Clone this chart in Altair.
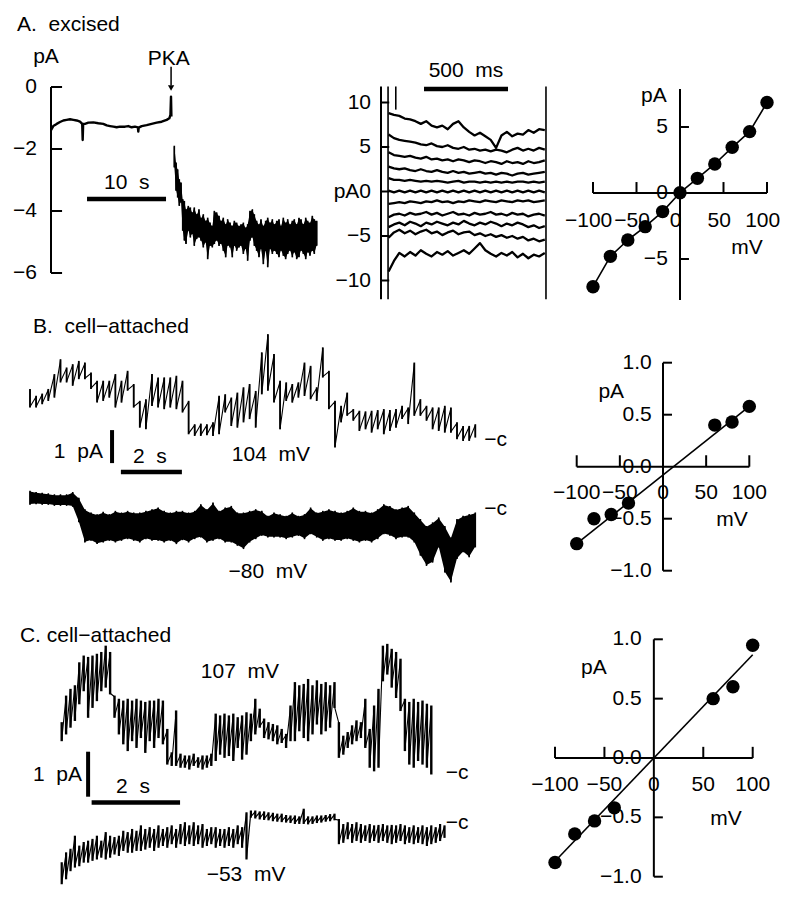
import altair as alt
import pandas as pd

# ======================= DATA =======================
# ---- Panel A, left: excised patch current (pA) vs time (s) ----
a_t_before = [0.0, 0.29, 0.72, 1.14, 1.56, 1.98, 2.41, 2.83, 3.25, 3.67,
              3.95, 4.01, 4.07, 4.30, 4.73, 5.36, 5.99, 6.62, 7.05, 7.47,
              7.89, 8.31, 8.73, 9.37, 9.79, 10.21, 10.63, 11.0, 11.05, 11.1,
              11.48, 12.11, 12.74, 13.38, 14.01, 14.64, 14.98, 15.12, 15.19, 15.24]
a_i_before = [-1.39, -1.26, -1.19, -1.13, -1.08, -1.06, -1.04, -1.06, -1.08, -1.12,
              -1.19, -1.71, -1.19, -1.19, -1.15, -1.14, -1.17, -1.19, -1.24, -1.26,
              -1.28, -1.30, -1.28, -1.28, -1.26, -1.30, -1.28, -1.30, -1.44, -1.31,
              -1.26, -1.23, -1.19, -1.15, -1.12, -1.06, -1.01, -0.90, -0.31, -0.95]
a_t_after = [15.61, 15.83, 16.03, 16.24, 16.46, 16.67, 16.88, 17.09, 17.38, 17.64,
             17.89, 18.14, 18.44, 18.73, 18.99, 19.28, 19.58, 19.83, 20.13, 20.42,
             20.68, 20.97, 21.27, 21.52, 21.81, 22.11, 22.36, 22.66, 22.95, 23.21,
             23.50, 23.80, 24.05, 24.35, 24.64, 24.89, 25.19, 25.49, 25.74, 26.03,
             26.33, 26.58, 26.88, 27.17, 27.43, 27.72, 28.02, 28.27, 28.57, 28.86,
             29.11, 29.41, 29.70, 29.96, 30.25, 30.55, 30.80, 31.10, 31.39, 31.65,
             31.94, 32.24, 32.49, 32.78, 33.08, 33.33, 33.63]
a_hi_after = [-1.92, -2.46, -2.68, -3.00, -3.11, -3.64, -3.70, -3.97, -3.86, -3.91,
              -4.07, -3.91, -4.13, -3.97, -4.24, -4.13, -4.34, -4.24, -4.40, -4.50,
              -4.02, -4.07, -4.18, -4.34, -4.24, -4.45, -4.29, -4.40, -4.50, -4.34,
              -4.40, -4.50, -4.45, -4.40, -4.56, -4.45, -4.02, -3.97, -4.13, -4.34,
              -4.45, -4.29, -4.50, -4.34, -4.24, -4.40, -4.29, -4.45, -4.34, -4.29,
              -4.50, -4.24, -4.40, -4.29, -4.45, -4.34, -4.29, -4.45, -4.24, -4.29,
              -4.45, -4.24, -4.34, -4.40, -4.18, -4.29, -4.34]
a_lo_after = [-2.57, -3.32, -3.54, -3.81, -3.70, -4.61, -4.93, -5.04, -4.61, -4.83,
              -4.72, -5.10, -4.88, -4.83, -4.93, -5.15, -4.99, -5.53, -5.10, -5.15,
              -5.04, -4.93, -5.10, -5.04, -5.26, -5.47, -5.10, -5.15, -5.47, -5.10,
              -5.26, -5.15, -5.10, -5.36, -5.20, -5.58, -4.93, -4.83, -5.10, -5.26,
              -5.47, -5.20, -5.69, -5.26, -5.79, -5.20, -5.36, -5.26, -5.36, -5.47,
              -5.26, -5.42, -5.53, -5.36, -5.26, -5.47, -5.31, -5.53, -5.47, -5.26,
              -5.36, -5.53, -5.31, -5.42, -5.26, -5.36, -5.10]
a_ticks = [0, -2, -4, -6]
a_tick_labels = ["0", "−2", "−4", "−6"]

# ---- Panel A, middle: current families (pA) vs time (ms) ----
fam_t = [45, 77, 109, 141, 173, 205, 237, 269, 301, 333,
         365, 397, 429, 461, 493, 525, 557, 589, 621, 653,
         685, 717, 749, 781, 813, 845, 877, 909, 941, 975]
fam_mv = [100, 80, 60, 40, 20, 0, -20, -40, -60, -80, -100]
fam_i = [
    [8.8, 8.6, 8.5, 8.2, 8.1, 7.9, 7.6, 7.9, 7.4, 7.2, 7.4, 7.0, 7.6, 7.9, 7.2,
     6.7, 6.3, 6.6, 6.2, 5.8, 4.9, 6.3, 6.7, 6.2, 6.5, 6.4, 6.9, 6.6, 7.0, 6.9],
    [6.4, 6.0, 5.8, 5.7, 5.6, 5.5, 5.3, 5.2, 5.4, 5.1, 5.0, 5.2, 4.9, 4.8, 5.0,
     4.7, 4.8, 4.6, 4.7, 4.5, 4.7, 4.6, 4.4, 4.7, 4.9, 4.6, 4.8, 4.6, 4.9, 4.7],
    [4.4, 4.1, 4.0, 3.9, 4.0, 3.8, 3.7, 3.9, 3.6, 3.7, 3.5, 3.6, 3.4, 3.6, 3.5,
     3.3, 3.5, 3.4, 3.2, 3.4, 3.3, 3.1, 3.4, 3.2, 3.3, 3.1, 3.4, 3.2, 3.3, 3.5],
    [2.8, 2.6, 2.5, 2.6, 2.4, 2.3, 2.5, 2.3, 2.2, 2.4, 2.2, 2.1, 2.3, 2.1, 2.2,
     2.0, 2.1, 2.2, 2.0, 2.1, 1.9, 2.1, 2.0, 1.8, 2.0, 2.1, 1.9, 2.0, 2.1, 2.2],
    [1.5, 1.3, 1.3, 1.2, 1.3, 1.2, 1.1, 1.2, 1.1, 1.2, 1.1, 1.0, 1.1, 1.2, 1.0,
     1.1, 1.1, 1.0, 1.1, 1.0, 1.1, 1.0, 1.1, 1.0, 1.1, 1.1, 1.0, 1.1, 1.0, 1.1],
    [0.1, -0.1, 0.1, -0.1, 0.1, -0.1, 0.1, -0.1, 0.1, -0.1, 0.1, -0.1, 0.1, -0.1, 0.1,
     -0.1, 0.1, -0.1, 0.1, -0.1, 0.1, -0.1, 0.1, -0.1, 0.1, -0.1, 0.1, -0.1, 0.1, -0.1],
    [-1.4, -1.3, -1.2, -1.3, -1.1, -1.2, -1.3, -1.1, -1.2, -1.0, -1.2, -1.1, -1.3, -1.1, -1.2,
     -1.0, -1.1, -1.2, -1.0, -1.1, -1.2, -1.0, -1.1, -1.2, -1.0, -1.1, -1.0, -1.2, -1.1, -1.0],
    [-2.9, -2.6, -2.5, -2.7, -2.4, -2.6, -2.5, -2.3, -2.6, -2.4, -2.7, -2.5, -2.3, -2.6, -2.5,
     -2.7, -2.4, -2.6, -2.5, -2.3, -2.6, -2.5, -2.7, -2.4, -2.6, -2.5, -2.8, -2.6, -2.5, -2.7],
    [-4.0, -3.7, -3.5, -3.8, -3.4, -3.6, -3.9, -3.5, -3.7, -3.4, -3.6, -3.8, -3.5, -3.7, -3.3,
     -3.6, -3.8, -3.5, -3.7, -3.4, -3.6, -3.9, -3.6, -3.8, -3.5, -3.7, -4.0, -3.8, -4.1, -3.9],
    [-5.2, -4.6, -4.3, -4.7, -4.4, -4.8, -4.5, -4.3, -4.7, -4.5, -4.9, -4.6, -4.4, -4.8, -4.6,
     -4.5, -4.9, -4.7, -5.0, -4.8, -5.1, -4.9, -5.2, -5.0, -5.3, -5.1, -5.5, -5.3, -5.6, -5.4],
    [-9.0, -7.8, -6.9, -7.3, -6.8, -7.2, -6.6, -7.0, -7.3, -6.8, -7.1, -6.7, -7.2, -6.9, -6.6,
     -7.0, -6.4, -5.8, -6.6, -7.0, -7.3, -6.9, -7.2, -6.8, -7.4, -7.0, -7.5, -7.1, -7.3, -6.9],
]
fam_ticks = [10, 5, 0, -5, -10]
fam_tick_labels = ["10", "5", "pA0", "−5", "−10"]

# ---- Panel A, right: I-V ----
iv_a_mv = [-100, -80, -60, -40, -20, 0, 20, 40, 60, 80, 100]
iv_a_pa = [-7.1, -4.8, -3.56, -2.55, -1.41, 0.02, 1.11, 2.2, 3.46, 4.65, 6.85]

# ---- Panel B: cell-attached traces (pA above closed level) vs time (s) ----
b_t = [0.0, 0.2, 0.4, 0.6, 0.8, 1.0, 1.2, 1.4, 1.6, 1.8,
       2.0, 2.2, 2.4, 2.6, 2.8, 3.0, 3.2, 3.4, 3.6, 3.8,
       4.0, 4.2, 4.4, 4.6, 4.8, 5.0, 5.2, 5.4, 5.6, 5.8,
       6.0, 6.2, 6.4, 6.6, 6.8, 7.0, 7.2, 7.4, 7.6, 7.8,
       8.0, 8.2, 8.4, 8.6, 8.8, 9.0, 9.2, 9.4, 9.6, 9.8,
       10.0, 10.2, 10.4, 10.6, 10.8, 11.0, 11.2, 11.4, 11.6, 11.8,
       12.0, 12.2, 12.4, 12.6, 12.8, 13.0, 13.2, 13.4, 13.6, 13.8,
       14.0, 14.2, 14.4, 14.6]
b104_hi = [1.52, 1.31, 1.38, 1.52, 1.97, 2.42, 2.17, 2.27, 2.37, 2.32,
           2.02, 1.77, 1.77, 1.77, 1.97, 1.77, 2.07, 1.67, 1.16, 1.21,
           1.97, 1.87, 1.87, 1.87, 1.92, 1.77, 1.16, 0.45, 0.47, 0.45,
           0.51, 1.31, 1.36, 1.26, 1.41, 1.57, 1.67, 1.46, 2.63, 3.18,
           2.58, 1.77, 1.72, 1.67, 1.72, 2.32, 2.22, 1.57, 2.78, 2.07,
           1.16, 1.01, 1.41, 0.91, 0.86, 0.84, 0.86, 0.88, 0.91, 0.88,
           0.91, 1.01, 0.96, 2.32, 1.21, 1.01, 0.96, 0.96, 1.01, 0.96,
           0.51, 0.40, 0.40, 0.45]
b104_lo = [1.01, 1.01, 1.11, 1.21, 1.31, 1.77, 1.77, 1.67, 1.87, 1.87,
           1.57, 1.16, 1.21, 1.31, 1.01, 1.16, 1.52, 1.01, 0.40, 0.35,
           1.06, 1.01, 0.96, 1.01, 0.96, 0.86, 0.20, 0.15, 0.15, 0.17,
           0.15, 0.20, 0.86, 0.45, 0.40, 0.56, 0.66, 0.40, 1.41, 1.52,
           1.16, 0.35, 1.21, 1.16, 1.31, 1.36, 1.26, 1.21, 1.92, 0.96,
           -0.20, 0.56, 0.76, 0.61, 0.30, 0.35, 0.25, 0.35, 0.20, 0.30,
           0.40, 0.66, 0.51, 0.76, 0.76, 0.61, 0.35, 0.30, 0.25, 0.25,
           0.05, 0.00, 0.00, 0.10]
b80_hi = [0.53, 0.49, 0.47, 0.45, 0.42, 0.42, 0.42, 0.49, 0.32, -0.03,
          -0.13, -0.18, -0.11, -0.18, -0.08, -0.13, -0.08, -0.13, -0.13, -0.08,
          -0.03, 0.02, -0.08, -0.13, -0.08, -0.08, -0.13, -0.08, 0.12, -0.03,
          0.17, -0.08, 0.02, 0.07, -0.13, -0.13, -0.08, -0.03, -0.08, -0.23,
          -0.13, -0.18, -0.23, -0.13, -0.23, -0.18, 0.02, -0.13, -0.08, -0.03,
          -0.08, -0.13, -0.08, 0.02, -0.08, -0.08, -0.13, -0.03, 0.12, 0.07,
          -0.03, 0.02, 0.07, -0.13, -0.33, -0.54, -0.43, -0.28, -0.54, -0.89,
          -0.33, -0.23, -0.18, -0.13]
b80_lo = [0.15, 0.17, 0.15, 0.15, 0.12, 0.12, 0.12, 0.09, -0.38, -0.99,
          -0.94, -1.04, -0.99, -0.94, -0.99, -0.94, -0.89, -0.94, -0.99, -0.89,
          -0.94, -0.94, -0.99, -0.94, -1.04, -0.92, -0.99, -0.89, -0.84, -0.99,
          -0.94, -0.89, -0.99, -0.99, -1.09, -1.19, -0.99, -0.89, -0.79, -0.84,
          -0.84, -0.84, -0.89, -0.84, -0.79, -0.89, -0.74, -0.84, -0.94, -0.89,
          -0.94, -0.94, -0.89, -0.94, -0.99, -0.94, -0.99, -0.89, -0.74, -0.79,
          -0.89, -0.84, -0.84, -0.99, -1.39, -1.70, -1.60, -1.14, -1.90, -2.20,
          -1.49, -1.29, -1.44, -1.14]
iv_b_mv = [-100, -80, -60, -40, 60, 80, 100]
iv_b_pa = [-0.74, -0.50, -0.46, -0.35, 0.40, 0.43, 0.58]
iv_b_fit_mv = [-100, 100]
iv_b_fit_pa = [-0.74, 0.58]

# ---- Panel C: cell-attached traces (pA above closed level) vs time (s) ----
c_t_top = [0.0, 0.1, 0.2, 0.3, 0.4, 0.5, 0.6, 0.7, 0.8, 0.9,
           1.0, 1.1, 1.2, 1.3, 1.4, 1.5, 1.6, 1.7, 1.8, 1.9,
           2.0, 2.1, 2.2, 2.3, 2.4, 2.5, 2.6, 2.7, 2.8, 2.9,
           3.0, 3.1, 3.2, 3.3, 3.4, 3.5, 3.6, 3.7, 3.8, 3.9,
           4.0, 4.1, 4.2, 4.3, 4.4, 4.5, 4.6, 4.7, 4.8, 4.9,
           5.0, 5.1, 5.2, 5.3, 5.4, 5.5, 5.6, 5.7, 5.8, 5.9,
           6.0, 6.1, 6.2, 6.3, 6.4, 6.5, 6.6, 6.7, 6.8, 6.9,
           7.0, 7.1, 7.2, 7.3, 7.4, 7.5, 7.6, 7.7, 7.8, 7.9,
           8.0, 8.1, 8.2, 8.3, 8.4]
c107_hi = [1.11, 1.70, 1.85, 1.93, 2.44, 2.59, 2.56, 2.59, 2.63, 2.67,
           2.81, 2.67, 1.70, 1.63, 1.59, 1.63, 1.59, 1.63, 1.59, 1.56,
           1.59, 1.59, 1.63, 1.59, 0.96, 0.44, 1.37, 0.41, 0.37, 0.37,
           0.41, 0.33, 0.37, 0.37, 0.41, 1.30, 1.26, 1.30, 1.26, 1.30,
           1.22, 1.26, 1.33, 1.30, 1.63, 1.41, 1.19, 1.11, 1.07, 1.04,
           0.96, 0.85, 1.48, 2.00, 1.93, 1.96, 2.07, 1.93, 2.04, 1.96,
           2.00, 1.93, 2.00, 1.11, 0.81, 0.89, 1.04, 1.15, 1.11, 1.63,
           0.96, 1.48, 1.85, 2.81, 2.85, 2.74, 2.67, 2.52, 1.63, 1.56,
           1.63, 1.56, 1.59, 1.52, 1.48]
c107_lo = [0.74, 0.89, 1.04, 1.19, 1.56, 1.85, 1.26, 1.48, 1.63, 1.85,
           1.93, 1.78, 1.26, 0.89, 0.67, 0.52, 0.74, 0.59, 0.81, 0.48,
           0.74, 0.59, 0.81, 0.67, 0.22, 0.19, 0.19, 0.15, 0.15, 0.11,
           0.19, 0.15, 0.11, 0.15, 0.19, 0.30, 0.44, 0.37, 0.41, 0.30,
           0.59, 0.33, 0.44, 0.74, 0.89, 1.04, 0.81, 0.78, 0.74, 0.67,
           0.70, 0.59, 0.74, 0.74, 0.96, 0.81, 0.74, 0.89, 1.11, 0.89,
           0.96, 1.04, 1.48, 0.37, 0.44, 0.59, 0.67, 0.74, 0.81, 0.59,
           0.15, 0.07, 0.15, 2.07, 2.22, 1.93, 1.70, 1.41, 0.52, 0.22,
           0.15, 0.30, 0.22, 0.15, 0.00]
c_t_bot = [0.0, 0.1, 0.2, 0.3, 0.4, 0.5, 0.6, 0.7, 0.8, 0.9,
           1.0, 1.1, 1.2, 1.3, 1.4, 1.5, 1.6, 1.7, 1.8, 1.9,
           2.0, 2.1, 2.2, 2.3, 2.4, 2.5, 2.6, 2.7, 2.8, 2.9,
           3.0, 3.1, 3.2, 3.3, 3.4, 3.5, 3.6, 3.7, 3.8, 3.9,
           4.0, 4.1, 4.2, 4.3, 4.4, 4.5, 4.6, 4.7, 4.8, 4.9,
           5.0, 5.1, 5.2, 5.3, 5.4, 5.5, 5.6, 5.7, 5.8, 5.9,
           6.0, 6.1, 6.2, 6.3, 6.4, 6.5, 6.6, 6.7, 6.8, 6.9,
           7.0, 7.1, 7.2, 7.3, 7.4, 7.5, 7.6, 7.7, 7.8, 7.9,
           8.0, 8.1, 8.2, 8.3, 8.4, 8.5, 8.6, 8.7]
c53_hi = [-0.89, -0.67, -0.59, -0.30, -0.52, -0.44, -0.41, -0.37, -0.30, -0.41,
          -0.22, -0.30, -0.33, -0.30, -0.19, -0.22, -0.15, -0.19, -0.07, -0.15,
          -0.11, -0.15, -0.07, -0.15, -0.11, -0.07, -0.15, -0.04, 0.00, -0.07,
          0.00, -0.07, -0.04, -0.15, -0.11, -0.11, -0.15, -0.15, -0.11, -0.15,
          -0.07, -0.11, 0.22, 0.26, 0.26, 0.24, 0.24, 0.22, 0.21, 0.19,
          0.19, 0.16, 0.15, 0.15, 0.13, 0.30, 0.13, 0.13, 0.15, 0.15,
          0.16, 0.18, 0.19, 0.07, -0.04, 0.00, -0.04, 0.00, -0.04, -0.07,
          -0.04, -0.07, -0.06, -0.04, -0.07, -0.06, -0.07, -0.04, -0.07, -0.11,
          -0.07, -0.11, -0.07, -0.11, -0.07, -0.11, -0.04, -0.07]
c53_lo = [-1.33, -1.22, -1.04, -0.96, -0.93, -0.85, -0.85, -0.81, -0.78, -0.74,
          -0.78, -0.74, -0.67, -0.70, -0.59, -0.63, -0.63, -0.59, -0.59, -0.56,
          -0.52, -0.59, -0.52, -0.48, -0.52, -0.44, -0.52, -0.44, -0.48, -0.44,
          -0.48, -0.44, -0.52, -0.48, -0.44, -0.52, -0.48, -0.52, -0.48, -0.52,
          -0.44, -0.52, -0.78, 0.15, 0.13, 0.11, 0.10, 0.09, 0.07, 0.06,
          0.05, 0.04, 0.03, 0.01, 0.01, 0.01, 0.00, 0.01, 0.03, 0.04,
          0.06, 0.07, 0.09, -0.44, -0.41, -0.33, -0.41, -0.37, -0.41, -0.37,
          -0.41, -0.37, -0.41, -0.37, -0.41, -0.44, -0.41, -0.37, -0.44, -0.41,
          -0.44, -0.41, -0.44, -0.48, -0.44, -0.41, -0.37, -0.30]
iv_c_mv = [-100, -80, -60, -40, 60, 80, 100]
iv_c_pa = [-0.88, -0.64, -0.53, -0.42, 0.50, 0.60, 0.95]
iv_c_fit_mv = [-100, 100]
iv_c_fit_pa = [-0.87, 0.87]

iv_x_ticks = [-100, -50, 50, 100]
iv_x_labels = ["−100", "−50", "0", "50", "100"]
iv_x_label_vals = [-100, -50, 0, 50, 100]

for a, b in [(a_t_before, a_i_before), (a_t_after, a_hi_after), (a_t_after, a_lo_after),
             (b_t, b104_hi), (b_t, b104_lo), (b_t, b80_hi), (b_t, b80_lo),
             (c_t_top, c107_hi), (c_t_top, c107_lo), (c_t_bot, c53_hi), (c_t_bot, c53_lo)]:
    assert len(a) == len(b), (len(a), len(b))
for row in fam_i:
    assert len(row) == len(fam_t)

# ======================= LAYOUT (page pixels) =======================
OFF = 8
FONT = "Liberation Sans"
FS = 21
SP = "\u00a0\u00a0"


def sc(dom, rng):
    return alt.Scale(domain=list(dom), range=[rng[0] - OFF, rng[1] - OFF], nice=False, zero=False)


class Panel:
    def __init__(self, xd, xr, yd, yr):
        self.xs = sc(xd, xr)
        self.ys = sc(yd, yr)

    def xy(self):
        return dict(x=alt.X("x:Q", scale=self.xs, axis=None),
                    y=alt.Y("y:Q", scale=self.ys, axis=None))

    def line(self, df, sw=1.3, order=False, detail=None):
        e = self.xy()
        if order:
            e["order"] = alt.Order("k:Q")
        if detail:
            e["detail"] = alt.Detail(detail)
        return alt.Chart(df).mark_line(color="black", strokeWidth=sw, strokeJoin="round",
                                       strokeCap="butt").encode(**e)

    def segs(self, rows, sw=2.0):
        df = pd.DataFrame(rows, columns=["x", "y", "x2", "y2"])
        e = self.xy()
        e["x2"] = alt.X2("x2:Q")
        e["y2"] = alt.Y2("y2:Q")
        return alt.Chart(df).mark_rule(color="black", strokeWidth=sw, strokeCap="butt").encode(**e)

    def bars(self, ts, his, los, sw=1.6):
        df = pd.DataFrame({"x": ts, "y": his, "y2": los})
        e = self.xy()
        e["y2"] = alt.Y2("y2:Q")
        return alt.Chart(df).mark_rule(color="black", strokeWidth=sw, strokeCap="square").encode(**e)

    def band(self, ts, his, los):
        df = pd.DataFrame({"x": ts, "y": his, "y2": los})
        e = self.xy()
        e["y2"] = alt.Y2("y2:Q")
        return alt.Chart(df).mark_area(color="black", opacity=1, interpolate="linear").encode(**e)

    def text(self, rows, align="center", size=FS):
        df = pd.DataFrame(rows, columns=["x", "y", "s"])
        e = self.xy()
        e["text"] = alt.Text("s:N")
        return alt.Chart(df).mark_text(align=align, baseline="middle", font=FONT,
                                       fontSize=size, color="black").encode(**e)

    def dots(self, xs, ys, size=180):
        df = pd.DataFrame({"x": xs, "y": ys})
        return alt.Chart(df).mark_circle(size=size, color="black", opacity=1).encode(**self.xy())

    def trace(self, ts, his, los, sw_bar=1.6, sw_line=1.0, fill=False):
        out = []
        if fill:
            out.append(self.band(ts, his, los))
        out += [self.bars(ts, his, los, sw_bar), self.line(zig(ts, his, los), sw=sw_line, order=True)]
        return out


def zig(ts, his, los):
    rows = []
    for i, (t, h, l) in enumerate(zip(ts, his, los)):
        rows.append({"x": t, "y": h, "k": 2 * i})
        rows.append({"x": t, "y": l, "k": 2 * i + 1})
    return pd.DataFrame(rows)


A1 = Panel((0, 35), (51, 327.5), (-6, 0), (273, 87))
A2 = Panel((0, 1000), (381, 549), (-10, 10), (280.5, 102.5))
A3 = Panel((-100, 100), (593, 767), (-8, 8), (298.6, 87.4))
BT = Panel((0, 14.6), (30, 475.3), (0, 1), (440, 407))
BB = Panel((0, 14.6), (30, 475.3), (0, 1), (509, 476))
B3 = Panel((-100, 100), (576.7, 749.3), (-1, 1), (570.7, 362.7))
CT = Panel((0, 8.7), (61.7, 444.5), (0, 1), (773.3, 728.3))
CB = Panel((0, 8.7), (61.7, 444.5), (0, 1), (823.3, 778.3))
C3 = Panel((-100, 100), (555, 752.7), (-1, 1), (876.7, 639.3))

layers = []

# ---------- A1 ----------
layers.append(A1.segs([(0, 0, 0, -6)] + [(0, v, 1.4, v) for v in a_ticks], sw=2))
layers.append(A1.text([(-1.77, v, s) for v, s in zip(a_ticks, a_tick_labels)], align="right"))
layers.append(A1.text([(-0.63, 0.97, "pA"), (14.9, 0.9, "PKA"), (9.6, -3.1, "10" + SP + "s")]))
layers.append(A1.text([(-4.3, 2.0, "A." + SP + "excised")], align="left"))
layers.append(A1.segs([(15.2, 0.65, 15.2, 0.05)], sw=1.5))
layers.append(alt.Chart(pd.DataFrame({"x": [15.2], "y": [-0.03]})).mark_point(
    shape="triangle-down", filled=True, size=40, color="black", opacity=1).encode(**A1.xy()))
layers.append(A1.segs([(4.56, -3.61, 14.56, -3.61)], sw=4.5))
layers.append(A1.line(pd.DataFrame({"x": a_t_before, "y": a_i_before}), sw=2.4))
layers += A1.trace(a_t_after, a_hi_after, a_lo_after, sw_bar=1.6, sw_line=1.1, fill=True)

# ---------- A2 ----------
layers.append(A2.segs([(0, 11.8, 0, -12.1)] + [(0, v, 49, v) for v in fam_ticks], sw=2))
layers.append(A2.segs([(42, 11.8, 42, -12.1), (982, 11.8, 982, -12.1), (88, 11.8, 88, 9.2)], sw=1.6))
layers.append(A2.text([(-59.5, v, s) for v, s in zip(fam_ticks, fam_tick_labels)], align="right"))
layers.append(A2.text([(506, 13.54, "500" + SP + "ms")]))
layers.append(A2.segs([(256, 11.52, 756, 11.52)], sw=4.5))
fam_rows = []
for mv, vals in zip(fam_mv, fam_i):
    for t, v in zip(fam_t, vals):
        fam_rows.append({"x": t, "y": v, "g": str(mv)})
layers.append(A2.line(pd.DataFrame(fam_rows), sw=2.3, detail="g:N"))

# ---------- A3 (I-V) ----------
layers.append(A3.segs([(-100, 0, 100, 0), (0, 7.88, 0, -8.1)]
                      + [(v, 0, v, 0.83) for v in iv_x_ticks]
                      + [(0, v, 10.3, v) for v in [5, -5]], sw=2))
layers.append(A3.text([(-14, 5, "5"), (-14, 0, "0"), (-14, -5, "−5")], align="right"))
layers.append(A3.text([(v - 5, -2.12, s) for v, s in zip(iv_x_label_vals, iv_x_labels)]
                      + [(-30, 7.35, "pA"), (77, -4.17, "mV")]))
layers.append(A3.line(pd.DataFrame({"x": iv_a_mv, "y": iv_a_pa}), sw=1.6))
layers.append(A3.dots(iv_a_mv, iv_a_pa))

# ---------- B traces ----------
layers.append(BT.text([(0.1, 3.42, "B." + SP + "cell−attached")], align="left"))
layers.append(BT.segs([(2.69, 0.30, 2.69, -0.70)], sw=4))
layers.append(BT.segs([(2.98, -0.97, 4.98, -0.97)], sw=4.5))
layers.append(BT.text([(2.39, -0.36, "1" + SP + "pA")], align="right"))
layers.append(BT.text([(3.93, -0.52, "2" + SP + "s"), (7.9, -0.45, "104" + SP + "mV")]))
layers.append(BT.text([(14.89, 0, "−c")], align="left"))
layers += BT.trace(b_t, b104_hi, b104_lo, sw_bar=1.8, sw_line=1.1)
layers.append(BB.text([(7.8, -1.91, "−80" + SP + "mV")]))
layers.append(BB.text([(14.89, 0, "−c")], align="left"))
layers += BB.trace(b_t, b80_hi, b80_lo, sw_bar=1.6, sw_line=1.1, fill=True)

# ---------- B3 (I-V) ----------
iv_y_ticks = [1, 0.5, -0.5, -1]
layers.append(B3.segs([(-100, 0, 100, 0), (0, 1, 0, -1)]
                      + [(v, 0, v, 0.11) for v in iv_x_ticks]
                      + [(0, v, 10.4, v) for v in iv_y_ticks], sw=2))
layers.append(B3.text([(-13, v, s) for v, s in zip([1, 0.5, 0, -0.5, -1],
                                                   ["1.0", "0.5", "0.0", "−0.5", "−1.0"])], align="right"))
layers.append(B3.text([(v, -0.25, s) for v, s in zip(iv_x_label_vals, iv_x_labels)]
                      + [(-60, 0.72, "pA"), (80, -0.51, "mV")]))
layers.append(B3.line(pd.DataFrame({"x": iv_b_fit_mv, "y": iv_b_fit_pa}), sw=1.6))
layers.append(B3.dots(iv_b_mv, iv_b_pa))

# ---------- C traces ----------
layers.append(CT.text([(-0.95, 3.05, "C. cell−attached")], align="left"))
layers.append(CT.segs([(0.6, 0.48, 0.6, -0.52)], sw=4))
layers.append(CT.segs([(0.68, -0.65, 2.69, -0.65)], sw=4.5))
layers.append(CT.text([(0.46, -0.04, "1" + SP + "pA")], align="right"))
layers.append(CT.text([(1.62, -0.30, "2" + SP + "s"), (4.05, 2.26, "107" + SP + "mV")]))
layers.append(CT.text([(8.73, 0, "−c")], align="left"))
layers += CT.trace(c_t_top, c107_hi, c107_lo, sw_bar=2.4, sw_line=1.1)
layers.append(CB.text([(4.19, -1.15, "−53" + SP + "mV")]))
layers.append(CB.text([(8.73, 0, "−c")], align="left"))
layers += CB.trace(c_t_bot, c53_hi, c53_lo, sw_bar=2.2, sw_line=1.2)

# ---------- C3 (I-V) ----------
layers.append(C3.segs([(-100, 0, 100, 0), (0, 1, 0, -1)]
                      + [(v, 0, v, 0.094) for v in iv_x_ticks]
                      + [(0, v, 9.1, v) for v in iv_y_ticks], sw=2))
layers.append(C3.text([(-12.4, v, s) for v, s in zip([1, 0.5, 0, -0.5, -1],
                                                     ["1.0", "0.5", "0.0", "−0.5", "−1.0"])], align="right"))
layers.append(C3.text([(v, -0.225, s) for v, s in zip(iv_x_label_vals, iv_x_labels)]
                      + [(-60.7, 0.76, "pA"), (73, -0.51, "mV")]))
layers.append(C3.line(pd.DataFrame({"x": iv_c_fit_mv, "y": iv_c_fit_pa}), sw=1.6))
layers.append(C3.dots(iv_c_mv, iv_c_pa))

chart = alt.layer(*layers).resolve_scale(x="independent", y="independent").properties(
    width=779, height=883, padding=0,
    autosize=alt.AutoSizeParams(type="none"),
    background="white",
).configure_view(stroke=None)

chart.save("out.html", embed_options={"renderer": "svg", "actions": False})
